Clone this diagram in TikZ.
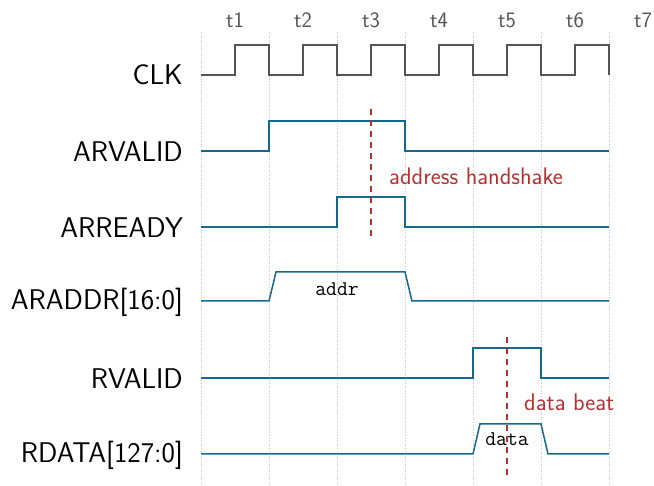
\documentclass[tikz,border=0pt]{standalone}
\usetikzlibrary{calc}
\definecolor{sigblue}{RGB}{22,104,140}
\definecolor{clkgray}{RGB}{85,85,85}
\definecolor{markred}{RGB}{180,50,50}
\definecolor{gridgray}{RGB}{200,200,200}
\tikzset{
  sig/.style={draw=sigblue, line width=1.5pt},
  clk/.style={draw=clkgray, line width=1.4pt},
  gridline/.style={draw=gridgray, line width=0.6pt, dotted},
  marker/.style={draw=markred, line width=1.5pt, dash pattern=on 6pt off 5pt},
  signame/.style={anchor=east, font=\sffamily\fontsize{28.5}{32}\selectfont, inner sep=0pt},
  tick/.style={anchor=center, font=\sffamily\fontsize{22}{26}\selectfont, text=clkgray, inner sep=0pt},
  note/.style={anchor=west, font=\sffamily\fontsize{24}{28}\selectfont, text=markred, inner sep=0pt},
  busval/.style={anchor=center, font=\ttfamily\fontsize{21}{24}\selectfont, inner sep=0pt},
}
\begin{document}
\begin{tikzpicture}[x=1pt, y=-1pt]
  \useasboundingbox (0,0) rectangle (654,486);
  % cycle boundaries
  \foreach \gx in {201,269,337,405,473,541,609}
    \draw[gridline] (\gx,32) -- (\gx,486);
  % cycle labels
  \foreach \i/\tx in {1/235,2/303,3/371,4/439,5/507,6/575,7/643}
    \node[tick] (t\i) at (\tx,20) {t\i};
  % signal names
  \node[signame] (nclk) at (183,75) {CLK};
  \node[signame] (narvalid) at (183,152) {ARVALID};
  \node[signame] (narready) at (183,228) {ARREADY};
  \node[signame] (naraddr) at (183,302) {ARADDR[16:0]};
  \node[signame] (nrvalid) at (183,379) {RVALID};
  \node[signame] (nrdata) at (183,455) {RDATA[127:0]};
  % clock
  \draw[clk] (201,75)
    \foreach \k in {0,...,5} {
      -- ++(34,0) -- ++(0,-30) -- ++(34,0) -- ++(0,30)
    };
  % ARVALID
  \draw[sig] (201,151) -- (269,151) -- (269,121) -- (405,121) -- (405,151) -- (609,151);
  % ARREADY
  \draw[sig] (201,227) -- (337,227) -- (337,197) -- (405,197) -- (405,227) -- (609,227);
  % ARADDR bus
  \draw[sig] (201,301) -- (269,301) -- (276,272) -- (405,272) -- (412,301) -- (609,301);
  \node[busval] (addr) at (337,289) {addr};
  % RVALID
  \draw[sig] (201,378) -- (473,378) -- (473,348) -- (541,348) -- (541,378) -- (609,378);
  % RDATA bus
  \draw[sig] (201,454) -- (473,454) -- (480,424) -- (541,424) -- (548,454) -- (609,454);
  \node[busval] (data) at (507,439) {data};
  % handshake markers
  \coordinate (hs1) at (371,109);
  \coordinate (hs2) at (371,240);
  \draw[marker] (hs1) -- (hs2);
  \node[note] (hslabel) at (389,176) {address handshake};
  \coordinate (db1) at (507,337);
  \coordinate (db2) at (507,476);
  \draw[marker] (db1) -- (db2);
  \node[note] (dblabel) at (524,402) {data beat};
\end{tikzpicture}
\end{document}
